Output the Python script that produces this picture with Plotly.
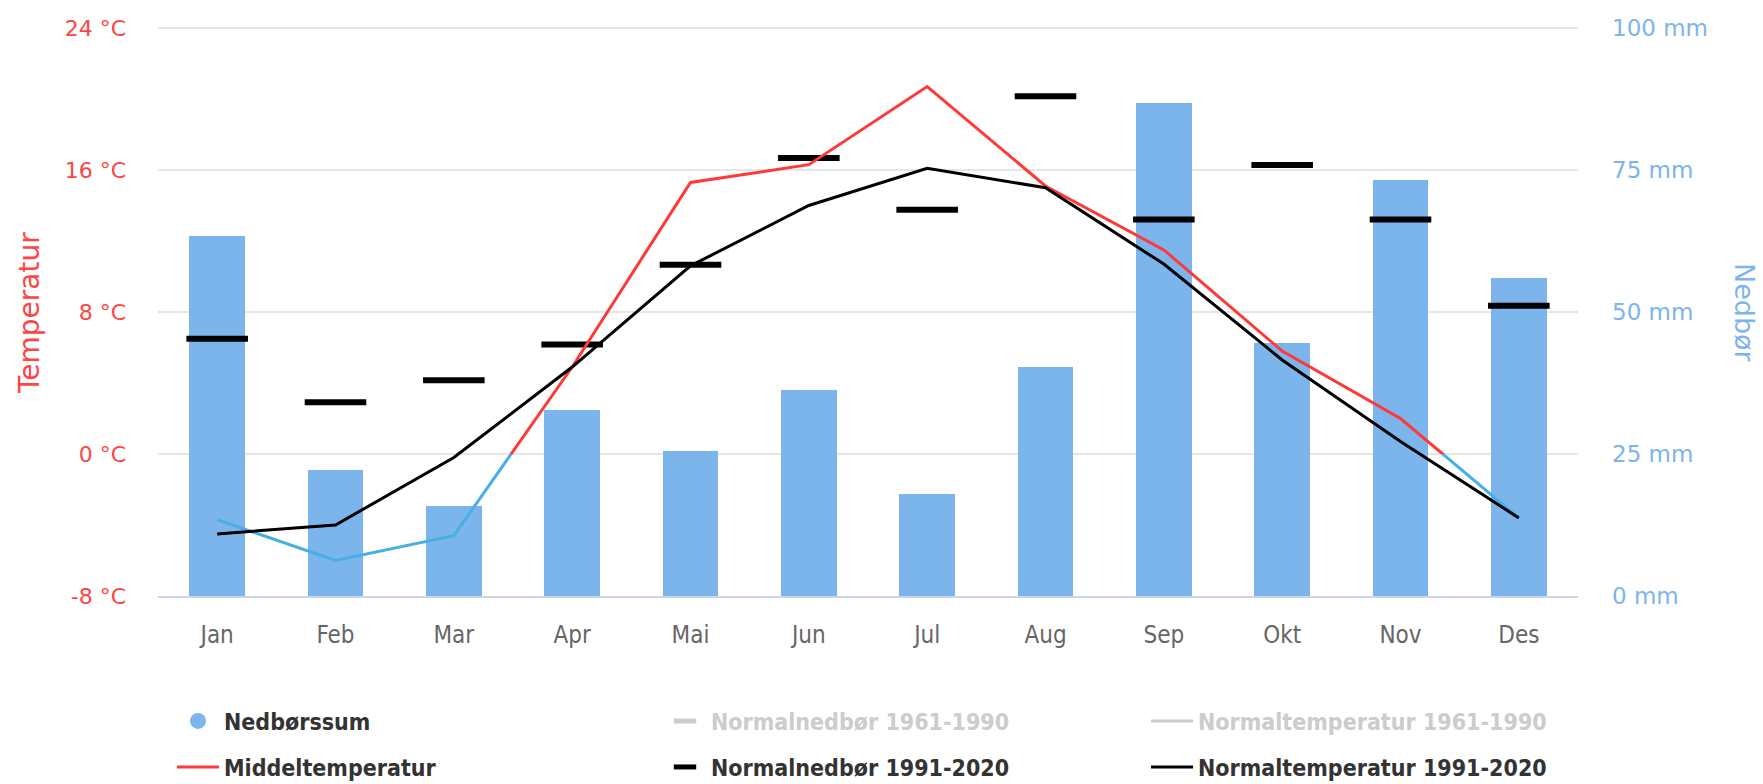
import plotly.graph_objects as go

months = ["Jan", "Feb", "Mar", "Apr", "Mai", "Jun", "Jul", "Aug", "Sep", "Okt", "Nov", "Des"]
precip = [63.3, 22.1, 15.8, 32.8, 25.6, 36.3, 18.0, 40.4, 86.8, 44.5, 73.3, 56.0]
normal_precip_9120 = [45.3, 34.1, 38.0, 44.3, 58.3, 77.1, 68.0, 88.0, 66.3, 75.9, 66.3, 51.1]
mean_temp = [-3.7, -6.0, -4.6, 4.9, 15.3, 16.3, 20.7, 15.1, 11.5, 5.8, 2.0, -3.6]
normal_temp_9120 = [-4.5, -4.0, -0.2, 4.9, 10.6, 14.0, 16.1, 15.0, 10.7, 5.3, 0.7, -3.6]
temp_ticks = [-8, 0, 8, 16, 24]
precip_ticks = [0, 25, 50, 75, 100]

x = list(range(len(months)))
T_MIN, T_MAX = -8, 24
zero_frac = (0 - T_MIN) / (T_MAX - T_MIN)

WIDE = "DejaVu Sans, Verdana, sans-serif"
COND = "DejaVu Sans Condensed, Open Sans, sans-serif"
RED = "#ff3838"
RED_TXT = "#ff4444"
BLUE_LINE = "#45afe6"
BAR = "#7cb5ec"
GREY = "#cccccc"
GRID = "#e6e6e6"
CLEAR = "rgba(0,0,0,0)"

W, H = 1763, 784
L, R, T, B = 158, 1578, 28, 596

fig = go.Figure()

# Legend-only entries placed on the main temperature axis (also registers the xy subplot)
fig.add_trace(go.Scatter(x=[None], y=[None], mode="markers", yaxis="y",
                         marker=dict(symbol="circle", size=16, color=BAR),
                         name="Nedbørssum", legend="legend"))
fig.add_trace(go.Scatter(x=[None], y=[None], mode="markers", yaxis="y",
                         marker=dict(symbol="line-ew", size=16, color=GREY,
                                     line=dict(width=5, color=GREY)),
                         name='<span style="color:#cccccc">Normalnedbør 1961-1990</span>',
                         legend="legend3"))
fig.add_trace(go.Scatter(x=[None], y=[None], mode="lines", yaxis="y",
                         line=dict(color=GREY, width=3),
                         name='<span style="color:#cccccc">Normaltemperatur 1961-1990</span>',
                         legend="legend5"))

# Bars (precipitation)
fig.add_trace(go.Bar(x=x, y=precip, yaxis="y2", marker=dict(color=BAR, line=dict(width=0)),
                     width=0.47, showlegend=False, name="Nedbørssum"))
# Normal precipitation 1991-2020 dashes
fig.add_trace(go.Scatter(x=x, y=normal_precip_9120, yaxis="y2", mode="markers",
                         marker=dict(symbol="line-ew", size=44, color="black",
                                     line=dict(width=6, color="black")),
                         name="Normalnedbør 1991-2020", legend="legend4"))
# Mean temperature: below zero (blue) and above zero (red), clipped by subplot domains
fig.add_trace(go.Scatter(x=x, y=mean_temp, yaxis="y3", mode="lines",
                         line=dict(color=BLUE_LINE, width=3), showlegend=False,
                         name="Middeltemperatur"))
fig.add_trace(go.Scatter(x=x, y=mean_temp, yaxis="y4", mode="lines",
                         line=dict(color=RED, width=3), name="Middeltemperatur",
                         legend="legend2"))
# Normal temperature 1991-2020
fig.add_trace(go.Scatter(x=x, y=normal_temp_9120, yaxis="y5", mode="lines",
                         line=dict(color="black", width=3),
                         name="Normaltemperatur 1991-2020", legend="legend6"))

legend_font = dict(family=COND, size=23, color="#333333", weight=700)


def leg(px_x, px_y):
    return dict(orientation="h", xref="container", yref="container",
                x=px_x / W, y=1 - px_y / H, xanchor="left", yanchor="middle",
                itemwidth=42, font=legend_font, bgcolor=CLEAR, borderwidth=0)


col_x = [172, 659, 1146]
row_y = [721, 767]

fig.update_layout(
    width=W, height=H,
    margin=dict(l=L, r=W - R, t=T, b=H - B, pad=0),
    paper_bgcolor="white", plot_bgcolor=CLEAR,
    bargap=0,
    xaxis=dict(range=[-0.5, len(months) - 0.5], tickvals=x, ticktext=months,
               tickfont=dict(family=COND, size=24, color="#666666"), showgrid=False,
               showline=True, linecolor="#ccd6eb", linewidth=2, ticks="",
               ticklabelstandoff=16, zeroline=False, fixedrange=True, anchor="y"),
    yaxis=dict(range=[T_MIN, T_MAX], tickvals=temp_ticks, ticktext=[f"{v} °C" for v in temp_ticks],
               tickfont=dict(family=WIDE, size=22, color=RED_TXT), showgrid=True,
               gridcolor=GRID, gridwidth=2, zeroline=False, ticks="",
               ticklabelstandoff=31, domain=[0, 1], anchor="x"),
    yaxis2=dict(range=[0, 100], overlaying="y", side="right", tickvals=precip_ticks,
                ticktext=[f"{v} mm" for v in precip_ticks],
                tickfont=dict(family=WIDE, size=23, color=BAR), showgrid=False,
                zeroline=False, ticks="", ticklabelstandoff=33, anchor="x"),
    yaxis3=dict(range=[T_MIN, 0], domain=[0, zero_frac], visible=False, anchor="x"),
    yaxis4=dict(range=[0, T_MAX], domain=[zero_frac, 1], visible=False, anchor="x"),
    yaxis5=dict(range=[T_MIN, T_MAX], domain=[0, 1], visible=False, anchor="x"),
    legend=leg(col_x[0], row_y[0]),
    legend2=leg(col_x[0], row_y[1]),
    legend3=leg(col_x[1], row_y[0]),
    legend4=leg(col_x[1], row_y[1]),
    legend5=leg(col_x[2], row_y[0]),
    legend6=leg(col_x[2], row_y[1]),
    shapes=[
        # top grid line (Plotly drops grid lines lying exactly on the range end)
        dict(type="line", xref="x domain", yref="y domain", x0=0, x1=1, y0=1, y1=1,
             line=dict(color=GRID, width=2), layer="below"),
    ],
    annotations=[
        dict(text="Temperatur", xref="paper", yref="paper",
             x=(29 - L) / (R - L), y=(B - 313) / (B - T), textangle=-90,
             showarrow=False, font=dict(family=WIDE, size=28, color=RED_TXT),
             xanchor="center", yanchor="middle"),
        dict(text="Nedbør", xref="paper", yref="paper",
             x=(1745 - L) / (R - L), y=(B - 313) / (B - T), textangle=90,
             showarrow=False, font=dict(family=WIDE, size=27, color=BAR),
             xanchor="center", yanchor="middle"),
    ],
)

fig.write_html("out.html", config={"displayModeBar": False},
               post_script="document.body.style.margin='0';")
